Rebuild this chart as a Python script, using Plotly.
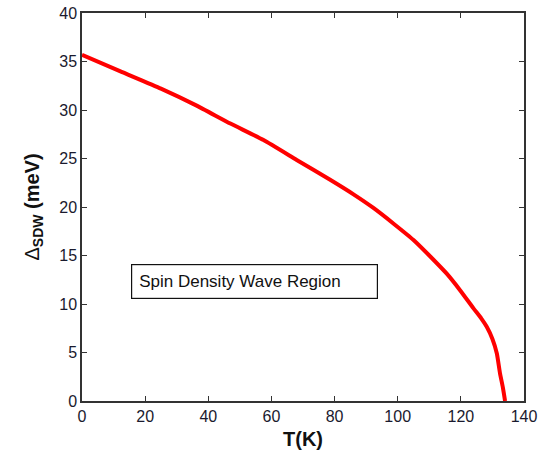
import plotly.graph_objects as go

temperature_k = [0, 12, 25, 36, 47, 57.5, 68, 78.6, 86, 92.3, 99, 105, 110, 115.6, 119.8, 124, 126.5, 128.2, 130, 131.4, 132.4, 133.3, 134]
gap_mev = [35.7, 34.0, 32.2, 30.5, 28.6, 26.9, 24.85, 22.8, 21.3, 19.9, 18.2, 16.6, 15.0, 13.1, 11.4, 9.55, 8.5, 7.66, 6.4, 4.9, 2.85, 1.4, 0]

x_ticks = [0, 20, 40, 60, 80, 100, 120, 140]
y_ticks = [0, 5, 10, 15, 20, 25, 30, 35, 40]
annotation_text = "Spin Density Wave Region"

fig = go.Figure()
fig.add_trace(go.Scatter(x=temperature_k, y=gap_mev, mode="lines",
                         line=dict(color="#ff0000", width=4, shape="spline", smoothing=0.5),
                         showlegend=False))

axis_common = dict(showgrid=False, zeroline=False, showline=True, linecolor="#333333",
                   linewidth=1.5, mirror="ticks", ticks="inside", ticklen=5,
                   tickcolor="#333333", tickwidth=1.2,
                   tickfont=dict(family="Arial, Liberation Sans", size=16, color="#1a1a2e"))

fig.update_xaxes(range=[0, 140], tickvals=x_ticks, **axis_common,
                 title=dict(text="<b>T(K)</b>", font=dict(family="Arial, Liberation Sans", size=20, color="#111111"), standoff=8))
fig.update_yaxes(range=[0, 40], tickvals=y_ticks, **axis_common,
                 title=dict(text="Δ<b><sub>SDW</sub> (meV)</b>", font=dict(family="Arial, Liberation Sans", size=20, color="#111111"), standoff=14))

fig.add_annotation(x=15.5, y=12.3, xref="x", yref="y", text=annotation_text, showarrow=False,
                   xanchor="left", yanchor="middle",
                   font=dict(family="Arial, Liberation Sans", size=17, color="#111111"),
                   bordercolor="#111111", borderwidth=1.2, borderpad=7, bgcolor="white",
                   width=231, align="left")

fig.update_layout(width=550, height=452, margin=dict(l=82, r=26, t=13, b=51, autoexpand=False),
                  paper_bgcolor="white", plot_bgcolor="white")

fig.write_html("out.html", config={"displayModeBar": False},
               post_script="document.body.style.margin='0';")
